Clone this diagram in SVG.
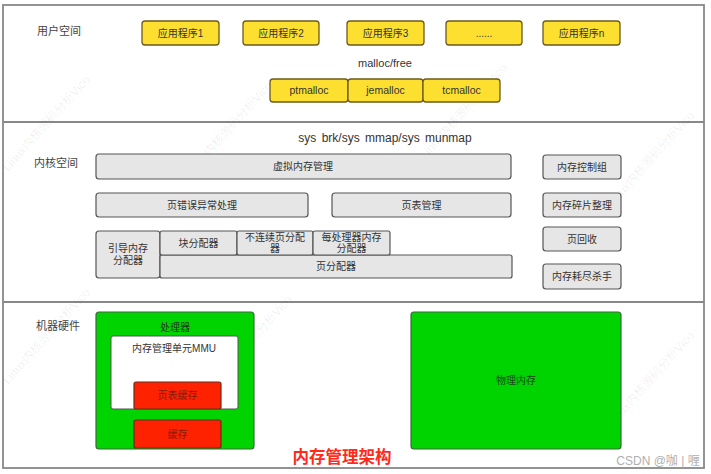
<svg xmlns="http://www.w3.org/2000/svg" width="711" height="474" viewBox="0 0 711 474">
<style>
.t{font-family:"Liberation Sans","Noto Sans CJK SC",sans-serif;font-size:10px;fill:#333;text-anchor:middle}
.lbl{font-family:"Noto Sans CJK SC","Liberation Sans",sans-serif;font-size:11px;fill:#444}
.y{fill:#fde02f;stroke:#6b5a1e;stroke-width:1.3}
.g{fill:#e6e6e6;stroke:#555;stroke-width:1.2}
.gr{fill:#00d400;stroke:#3a6a3a;stroke-width:1.2}
.rd{fill:#ff2200;stroke:#6a2a1a;stroke-width:1.2}
.wm{font-family:"Liberation Sans","Noto Sans CJK SC",sans-serif;font-size:12px;fill:#000;fill-opacity:0.07}
</style>
<rect x="0" y="0" width="711" height="474" fill="#fff"/>
<g id="frame" fill="none" stroke="#888" stroke-width="1.8">
<rect x="3" y="5" width="701" height="463"/>
<line x1="3" y1="122" x2="704" y2="122"/>
<line x1="3" y1="302" x2="704" y2="302"/>
</g>
<g id="watermarks">
<text class="wm" transform="translate(8,172) rotate(-48)">Linux内核源码分析Vico</text>
<text class="wm" transform="translate(190,178) rotate(-48)">Linux内核源码分析Vico</text>
<text class="wm" transform="translate(425,160) rotate(-48)">Linux内核源码分析Vico</text>
<text class="wm" transform="translate(612,208) rotate(-48)">Linux内核源码分析Vico</text>
<text class="wm" transform="translate(8,385) rotate(-48)">Linux内核源码分析Vico</text>
<text class="wm" transform="translate(210,392) rotate(-48)">Linux内核源码分析Vico</text>
<text class="wm" transform="translate(612,428) rotate(-48)">Linux内核源码分析Vico</text>
</g>
<g id="labels">
<text class="lbl" x="37" y="35">用户空间</text>
<text class="lbl" x="34" y="167">内核空间</text>
<text class="lbl" x="36" y="330">机器硬件</text>
<text class="t" x="385" y="67" style="font-size:11px">malloc/free</text>
<text class="t" x="385" y="142" style="font-size:12px;word-spacing:2px">sys brk/sys mmap/sys munmap</text>
</g>
<g id="app1"><rect class="y" x="142" y="21" width="77" height="24" rx="3"/><text class="t" x="180.5" y="36.5">应用程序1</text></g>
<g id="app2"><rect class="y" x="243" y="21" width="76" height="24" rx="3"/><text class="t" x="281" y="36.5">应用程序2</text></g>
<g id="app3"><rect class="y" x="347" y="21" width="77" height="24" rx="3"/><text class="t" x="385.5" y="36.5">应用程序3</text></g>
<g id="appdots"><rect class="y" x="446" y="21" width="76" height="24" rx="3"/><text class="t" x="484" y="36.5">......</text></g>
<g id="appn"><rect class="y" x="543" y="21" width="77" height="24" rx="3"/><text class="t" x="581.5" y="36.5">应用程序n</text></g>
<g id="ptmalloc"><rect class="y" x="270" y="79" width="78" height="23" rx="3"/><text class="t" x="309" y="94" style="font-size:10.5px">ptmalloc</text></g>
<g id="jemalloc"><rect class="y" x="348" y="79" width="75" height="23" rx="3"/><text class="t" x="385.5" y="94" style="font-size:10.5px">jemalloc</text></g>
<g id="tcmalloc"><rect class="y" x="423" y="79" width="77" height="23" rx="3"/><text class="t" x="461.5" y="94" style="font-size:10.5px">tcmalloc</text></g>
<g id="vmm"><rect class="g" x="96" y="154" width="415" height="25" rx="3"/><text class="t" x="303" y="170">虚拟内存管理</text></g>
<g id="pagefault"><rect class="g" x="96" y="193" width="212" height="24" rx="3"/><text class="t" x="202" y="208.5">页错误异常处理</text></g>
<g id="pagetable"><rect class="g" x="332" y="193" width="179" height="24" rx="3"/><text class="t" x="421.5" y="208.5">页表管理</text></g>
<g id="bootmem"><rect class="g" x="96" y="231" width="64" height="47" rx="3"/><text class="t" x="128" y="251.5">引导内存</text><text class="t" x="128" y="264">分配器</text></g>
<g id="pagealloc"><rect class="g" x="160" y="255" width="352" height="23" rx="2"/><text class="t" x="336" y="270">页分配器</text></g>
<g id="slab"><rect class="g" x="160" y="231" width="77" height="24" rx="2"/><text class="t" x="198.5" y="246.5">块分配器</text></g>
<g id="vmalloc"><rect class="g" x="237" y="231" width="76" height="24" rx="2"/><text class="t" x="275" y="241">不连续页分配</text><text class="t" x="275" y="252">器</text></g>
<g id="percpu"><rect class="g" x="313" y="231" width="77" height="24" rx="2"/><text class="t" x="351.5" y="241">每处理器内存</text><text class="t" x="351.5" y="252">分配器</text></g>
<g id="memcg"><rect class="g" x="543" y="155" width="78" height="24" rx="3"/><text class="t" x="582" y="170.5">内存控制组</text></g>
<g id="compact"><rect class="g" x="543" y="193" width="78" height="24" rx="3"/><text class="t" x="582" y="208.5">内存碎片整理</text></g>
<g id="reclaim"><rect class="g" x="543" y="227" width="78" height="24" rx="3"/><text class="t" x="582" y="242.5">页回收</text></g>
<g id="oom"><rect class="g" x="543" y="264" width="78" height="25" rx="3"/><text class="t" x="582" y="280">内存耗尽杀手</text></g>
<g id="cpu"><rect class="gr" x="96" y="312" width="158" height="137" rx="3"/><text class="t" x="175" y="331" style="fill:#1a3a1a">处理器</text></g>
<g id="mmu"><rect x="111" y="336" width="127" height="73" rx="2" fill="#fff" stroke="#555" stroke-width="1"/><text class="t" x="174" y="352">内存管理单元MMU</text></g>
<g id="tlb"><rect class="rd" x="134" y="382" width="87" height="27" rx="2"/><text class="t" x="177.5" y="399" style="fill:#8a1a0a">页表缓存</text></g>
<g id="cache"><rect class="rd" x="134" y="420" width="87" height="28" rx="2"/><text class="t" x="177.5" y="437.5" style="fill:#8a1a0a">缓存</text></g>
<g id="physmem"><rect class="gr" x="411" y="312" width="210" height="137" rx="3"/><text class="t" x="516" y="384" style="fill:#1a4a1a">物理内存</text></g>
<g id="connectors"></g>
<text x="342" y="463" font-family="Noto Sans CJK SC,sans-serif" font-size="16.5" font-weight="bold" fill="#ff2a1a" text-anchor="middle">内存管理架构</text>
<text x="658" y="465" font-family="Liberation Sans,Noto Sans CJK SC,sans-serif" font-size="12" fill="#b0b0b0" text-anchor="middle">CSDN @咖 | 喱</text>
</svg>
